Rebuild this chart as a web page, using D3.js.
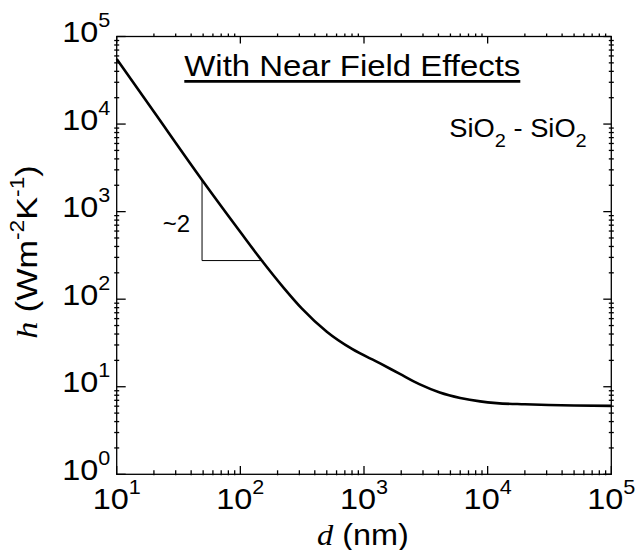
<!DOCTYPE html>
<html>
<head>
<meta charset="utf-8">
<script src="https://cdn.jsdelivr.net/npm/d3@7"></script>
<style>
  body { margin: 0; background: #fff; }
  text { font-family: Arial, "Liberation Sans", sans-serif; fill: #000; }
</style>
</head>
<body>
<div id="chart"></div>
<script>
// gap d (nm) and heat transfer coefficient h (W m^-2 K^-1)
const gapNm = [10, 20, 50, 100, 150, 225, 315, 500, 800, 1350, 1950, 2800, 4100, 6000, 8700, 11800, 20000, 50000, 100000];
const hValues = [55400, 13800, 2210, 585, 273, 134, 78, 42.5, 27, 18.5, 14, 10.7, 8.6, 7.45, 6.8, 6.5, 6.3, 6.1, 6.05];

// slope triangle (~2)
const slopeD = [49, 49, 153];
const slopeH = [2300, 276, 276];

const xMajor = [10, 100, 1000, 10000, 100000];
const yMajor = [1, 10, 100, 1000, 10000, 100000];
const xExp = ['1', '2', '3', '4', '5'];
const yExp = ['0', '1', '2', '3', '4', '5'];

const W = 637, H = 550;
const margin = { top: 36.5, right: 25.7, bottom: 75.7, left: 116.7 };
const width = W - margin.left - margin.right,
  height = H - margin.top - margin.bottom;
const stretch = 1.08;

const svg = d3.select('#chart').append('svg')
  .attr('width', W)
  .attr('height', H);
const g = svg.append('g')
  .attr('transform', `translate(${margin.left}, ${margin.top})`);

const x = d3.scaleLog().domain([10, 1e5]).range([0, width]);
const y = d3.scaleLog().domain([1, 1e5]).range([height, 0]);

function minors(lo, hi) {
  const out = [];
  for (let p = lo; p < hi; p *= 10) {
    for (let k = 2; k <= 9; k++) out.push(p * k);
  }
  return out;
}
const xMinor = minors(10, 1e5);
const yMinor = minors(1, 1e5);

// tick marks: vertical axes get [x1, x2], horizontal axes get [y1, y2]
function vTicks(vals, x1, x2) {
  g.append('g').selectAll('line').data(vals).enter().append('line')
    .attr('x1', x1).attr('x2', x2)
    .attr('y1', d => y(d)).attr('y2', d => y(d))
    .attr('stroke', '#000').attr('stroke-width', 1.3);
}
function hTicks(vals, y1, y2) {
  g.append('g').selectAll('line').data(vals).enter().append('line')
    .attr('y1', y1).attr('y2', y2)
    .attr('x1', d => x(d)).attr('x2', d => x(d))
    .attr('stroke', '#000').attr('stroke-width', 1.3);
}
vTicks(yMajor, 0, 9);
vTicks(yMinor, -2.5, 2.5);
vTicks(yMajor, width - 8, width);
vTicks(yMinor, width - 2.5, width + 2.5);
hTicks(xMajor, height - 8.3, height);
hTicks(xMinor, height - 4, height + 1);
hTicks(xMajor, 0, 7);
hTicks(xMinor, -3, 0);

// frame
g.append('rect')
  .attr('width', width).attr('height', height)
  .attr('fill', 'none').attr('stroke', '#000').attr('stroke-width', 1.3);

// tick labels (10^n)
function powLabel(parent, px, py, exp, anchor) {
  const t = parent.append('g')
    .attr('transform', `translate(${px},${py}) scale(${stretch},1)`)
    .append('text')
    .attr('text-anchor', anchor)
    .style('font-size', '30px');
  t.append('tspan').text('10');
  t.append('tspan').attr('dy', -15).style('font-size', '20px').text(exp);
}
yMajor.forEach((v, i) => powLabel(g, -6.5, y(v) + 5.6, yExp[i], 'end'));
xMajor.forEach((v, i) => powLabel(g, x(v), height + 35, xExp[i], 'middle'));

// curve
const line = d3.line()
  .x((d, i) => x(gapNm[i]))
  .y(d => y(d))
  .curve(d3.curveMonotoneX);
g.append('path')
  .datum(hValues)
  .attr('d', line)
  .attr('fill', 'none')
  .attr('stroke', '#000')
  .attr('stroke-width', 2.6)
  .attr('stroke-linejoin', 'round');

// slope triangle
g.append('path')
  .datum(slopeD.map((d, i) => [d, slopeH[i]]))
  .attr('d', d3.line().x(d => x(d[0])).y(d => y(d[1])))
  .attr('fill', 'none')
  .attr('stroke', '#000')
  .attr('stroke-width', 1);
g.append('text')
  .attr('x', x(slopeD[0]) - 12)
  .attr('y', (y(slopeH[0]) + y(slopeH[1])) / 2 + 12)
  .attr('text-anchor', 'end')
  .style('font-size', '24px')
  .text('~2');

// title
svg.append('text')
  .attr('x', 184.3).attr('y', 76)
  .attr('textLength', 336)
  .attr('lengthAdjust', 'spacingAndGlyphs')
  .style('font-size', '30px')
  .text('With Near Field Effects');
svg.append('line')
  .attr('x1', 184.3).attr('x2', 520.3)
  .attr('y1', 81.3).attr('y2', 81.3)
  .attr('stroke', '#000').attr('stroke-width', 2.7);

// material label
const mat = svg.append('g')
  .attr('transform', `translate(449.3,136.7) scale(1.05,1)`)
  .append('text').style('font-size', '26px');
mat.append('tspan').text('SiO');
mat.append('tspan').attr('dy', 10).style('font-size', '19px').text('2');
mat.append('tspan').attr('dy', -10).text(' - SiO');
mat.append('tspan').attr('dy', 10).style('font-size', '19px').text('2');

// axis titles
const xt = svg.append('g')
  .attr('transform', `translate(${margin.left + width / 2 - 1},544.5) scale(${stretch},1)`)
  .append('text').attr('text-anchor', 'middle').style('font-size', '30px');
xt.append('tspan').style('font-family', '"Liberation Serif", "Times New Roman", serif')
  .style('font-style', 'italic').text('d');
xt.append('tspan').text(' (nm)');

const yt = svg.append('g')
  .attr('transform', `translate(36.7,252) rotate(-90) scale(1.14,1)`)
  .append('text').attr('text-anchor', 'middle').style('font-size', '30px');
yt.append('tspan').style('font-family', '"Liberation Serif", "Times New Roman", serif')
  .style('font-style', 'italic').text('h');
yt.append('tspan').text(' (Wm');
yt.append('tspan').attr('dy', -13).style('font-size', '20px').text('-2');
yt.append('tspan').attr('dy', 13).text('K');
yt.append('tspan').attr('dy', -13).style('font-size', '20px').text('-1');
yt.append('tspan').attr('dy', 13).text(')');
</script>
</body>
</html>
